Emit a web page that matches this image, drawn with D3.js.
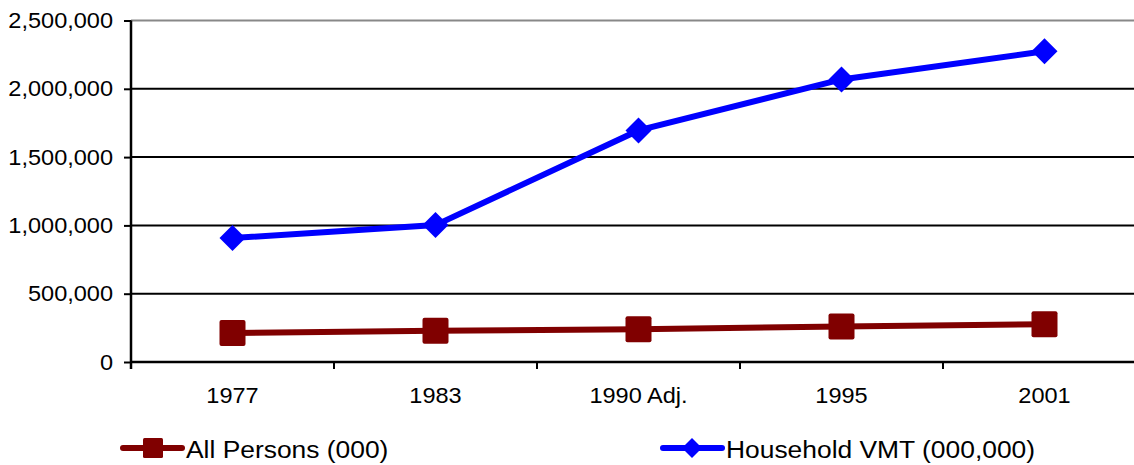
<!DOCTYPE html>
<html>
<head>
<meta charset="utf-8">
<script src="https://cdn.jsdelivr.net/npm/d3@7"></script>
<style>
  html, body { margin: 0; padding: 0; background: #fff; }
  svg { display: block; font-family: "Liberation Sans", Arial, sans-serif; }
</style>
</head>
<body>
<svg id="chart" width="1134" height="465"></svg>
<script>
// Survey years
const years = ["1977", "1983", "1990 Adj.", "1995", "2001"];
// All persons, thousands
const allPersons = [213141, 229453, 239416, 259994, 277203];
// Household vehicle miles travelled, millions
const householdVMT = [907603, 1002139, 1695290, 2068368, 2274797];
// Value axis ticks
const yTicks = [0, 500000, 1000000, 1500000, 2000000, 2500000];

const svg = d3.select("#chart");
const plotLeft = 131, plotRight = 1146, plotTop = 20.5, plotBottom = 362;
const textStretch = 1.07;

const x = d3.scaleBand().domain(years).range([plotLeft, plotRight]);
const y = d3.scaleLinear().domain([0, 2500000]).range([plotBottom, plotTop]);
const fmt = d3.format(",");

// Horizontal gridlines
svg.append("g").selectAll("line").data(yTicks.filter(d => d > 0)).join("line")
  .attr("x1", plotLeft).attr("x2", plotRight)
  .attr("y1", d => y(d)).attr("y2", d => y(d))
  .attr("stroke", d => d === 2500000 ? "#888" : "#000")
  .attr("stroke-width", 2);

// Y axis
const yAxis = svg.append("g").attr("transform", `translate(${plotLeft},0)`)
  .call(d3.axisLeft(y).tickValues(yTicks).tickFormat(fmt).tickSize(7).tickPadding(11));
yAxis.select(".domain").attr("stroke", "#000").attr("stroke-width", 2.5)
  .attr("d", `M0,${plotTop}V${plotBottom + 7}`);
yAxis.selectAll(".tick line").attr("stroke", "#000").attr("stroke-width", 2);
yAxis.selectAll(".tick text").attr("font-size", 22).attr("fill", "#000")
  .attr("font-family", "Liberation Sans, Arial, sans-serif")
  .attr("x", 0).attr("transform", `translate(-18,0) scale(${textStretch},1)`);

// X axis with ticks at category boundaries
const xg = svg.append("g").attr("transform", `translate(0,${plotBottom})`);
xg.append("line").attr("x1", plotLeft).attr("x2", plotRight).attr("stroke", "#000").attr("stroke-width", 2.5);
const bounds = years.map(d => x(d)).concat([plotRight]);
xg.selectAll("line.tk").data(bounds).join("line").attr("class", "tk")
  .attr("x1", d => d).attr("x2", d => d).attr("y1", 0).attr("y2", 7)
  .attr("stroke", "#000").attr("stroke-width", 2);
xg.selectAll("text").data(years).join("text")
  .attr("transform", d => `translate(${x(d) + x.bandwidth() / 2},41) scale(${textStretch},1)`)
  .attr("text-anchor", "middle").attr("font-size", 22).text(d => d);

const cx = d => x(d) + x.bandwidth() / 2;
const line = d3.line();

// All Persons series
const personsColor = "#800000";
svg.append("path")
  .attr("d", line(years.map((d, i) => [cx(d), y(allPersons[i])])))
  .attr("fill", "none").attr("stroke", personsColor).attr("stroke-width", 6);
svg.append("g").selectAll("rect").data(years).join("rect")
  .attr("x", d => cx(d) - 13).attr("width", 26)
  .attr("y", (d, i) => y(allPersons[i]) - 13).attr("height", 26)
  .attr("rx", 2).attr("fill", personsColor);

// Household VMT series
const vmtColor = "#0000ff";
svg.append("path")
  .attr("d", line(years.map((d, i) => [cx(d), y(householdVMT[i])])))
  .attr("fill", "none").attr("stroke", vmtColor).attr("stroke-width", 6);
svg.append("g").selectAll("path").data(years).join("path")
  .attr("transform", (d, i) => `translate(${cx(d)},${y(householdVMT[i])})`)
  .attr("d", "M0,-13L13,0L0,13L-13,0Z").attr("fill", vmtColor);

// Legend
const legend = [
  { label: "All Persons (000)", color: personsColor, shape: "square", x: 121 },
  { label: "Household VMT (000,000)", color: vmtColor, shape: "diamond", x: 661 }
];
const lg = svg.append("g").selectAll("g").data(legend).join("g")
  .attr("transform", d => `translate(${d.x},448)`);
lg.append("line").attr("x1", 2).attr("x2", 61)
  .attr("stroke", d => d.color).attr("stroke-width", 6).attr("stroke-linecap", "round");
lg.filter(d => d.shape === "square").append("rect")
  .attr("x", 22).attr("y", -10).attr("width", 20).attr("height", 20).attr("rx", 1.5)
  .attr("fill", d => d.color);
lg.filter(d => d.shape === "diamond").append("path")
  .attr("d", "M31,-10L41,0L31,10L21,0Z").attr("fill", d => d.color);
lg.append("text").attr("transform", "translate(65,10) scale(1.1,1)").attr("font-size", 24)
  .attr("fill", "#000").text(d => d.label);
</script>
</body>
</html>
